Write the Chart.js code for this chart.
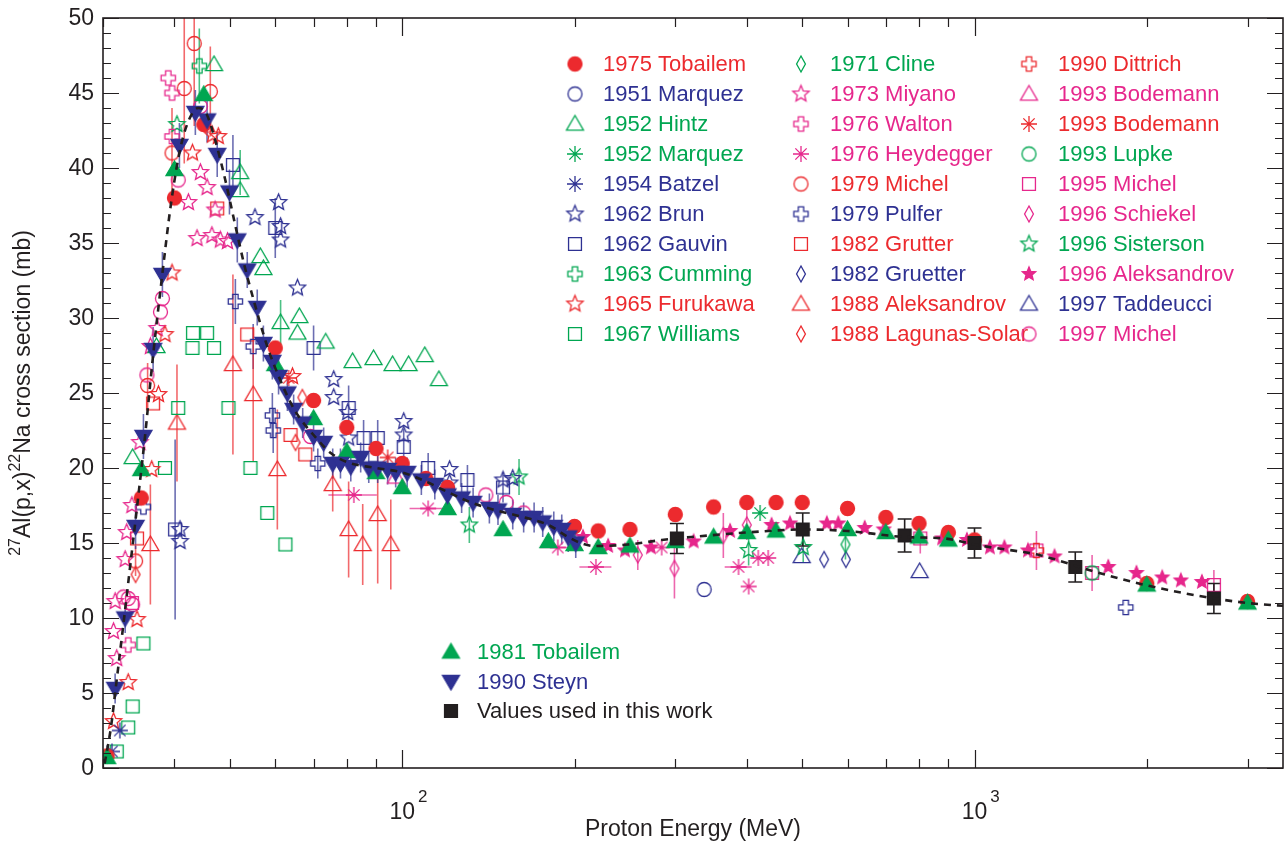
<!DOCTYPE html>
<html>
<head>
<meta charset="utf-8">
<script src="https://cdn.jsdelivr.net/npm/chart.js@4/dist/chart.umd.min.js"></script>
<style>
  html, body { margin: 0; padding: 0; background: #fff; }
  #c { display: block; }
</style>
</head>
<body>
<canvas id="c" width="1285" height="841"></canvas>
<script>
// 27Al(p,x)22Na excitation function, energies in MeV, cross sections in mb

const xTickValues = [30, 40, 50, 60, 70, 80, 90, 100, 200, 300, 400, 500, 600, 700, 800, 900, 1000, 2000, 3000];
const xLabelValues = [100, 1000];
const xLabelExponents = ['2', '3'];
const yLabelStep = 5;

// evaluated curve (dashed)
const fitE = [30.2, 31, 31.5, 32.5, 33.5, 34.5, 35.5, 36.7, 38, 39.5, 41, 42.5, 44, 45.5, 47, 49, 51, 53, 55, 58, 61, 65, 70, 75, 80, 90, 100, 110, 120, 130, 145, 160, 180, 195, 205, 216, 248, 284, 320, 400, 500, 600, 755, 888, 1000, 1073, 1297, 1585, 1987, 2533, 3000, 3494];
const fitS = [0.3, 2.8, 5.0, 9.3, 13.6, 17.8, 22.0, 27.5, 32.6, 37.8, 41.4, 43.3, 44.0, 43.6, 42.0, 39.3, 36.3, 33.5, 31.2, 28.2, 26.0, 23.8, 22.2, 21.0, 20.4, 20.0, 19.7, 19.1, 18.4, 17.8, 17.2, 16.8, 16.2, 15.4, 15.0, 14.8, 14.9, 15.2, 15.4, 15.7, 15.9, 15.8, 15.4, 15.3, 14.9, 14.7, 14.2, 13.2, 12.2, 11.4, 11.0, 10.8];

const tobailem75E = [30.5, 35, 40, 45, 60, 70, 80, 90, 100, 110, 120, 200, 220, 250, 300, 350, 400, 450, 500, 600, 700, 800, 900, 1000, 2000, 3000];
const tobailem75S = [0.8, 18.0, 38.0, 42.9, 28.0, 24.5, 22.7, 21.3, 20.3, 19.3, 18.7, 16.1, 15.8, 15.9, 16.9, 17.4, 17.7, 17.7, 17.7, 17.3, 16.7, 16.3, 15.7, 15.2, 12.3, 11.1];

const marquez51E = [337];
const marquez51S = [11.9];

const hintzE = [33.8, 37.2, 46.9, 52.1, 52.1, 56.5, 57.2, 61.3, 65.6, 66.1, 73.5, 81.9, 89.1, 96.2, 102.6, 109.5, 115.9];
const hintzS = [20.7, 28.1, 46.9, 39.7, 38.5, 34.1, 33.3, 29.7, 29.0, 30.1, 28.4, 27.1, 27.3, 26.9, 26.9, 27.5, 25.9];
const hintzErr = [0, 0, 0, 1.5, 0, 0, 0, 1.5, 0, 0, 0, 0, 0, 0, 0, 0, 0];

const marquez52E = [422];
const marquez52S = [17.0];

const batzelE = [32.1, 31.1];
const batzelS = [2.5, 1.1];

const brunE = [40.9, 40.9, 55.3, 60.8, 61.3, 61.3, 65.6, 75.9, 75.9, 80.3, 80.6, 100.6, 100.6, 121, 121, 150, 156];
const brunS = [15.9, 15.1, 36.7, 37.7, 36.1, 35.2, 32.0, 25.9, 24.7, 23.7, 22.0, 23.1, 22.2, 19.9, 19.0, 19.2, 19.3];

const gauvinE = [40.1, 50.6, 60.0, 70.0, 80.6, 85.6, 90.6, 100.6, 111, 130, 150];
const gauvinS = [15.9, 40.2, 36.0, 28.0, 24.0, 22.0, 22.0, 21.4, 20.0, 19.2, 18.7];
const gauvinErr = [6.0, 2.0, 2.0, 1.5, 1.5, 1.2, 1.2, 1.2, 1.0, 1.0, 1.0];

const cummingE = [44.2];
const cummingS = [46.8];
const cummingErr = [2.5];

const furukawaE = [31.3, 33.2, 34.4, 36.5, 37.5, 38.5, 39.6, 43.0, 46.6, 47.7, 64.3];
const furukawaS = [3.1, 5.7, 9.9, 19.9, 24.9, 28.9, 33.0, 41.0, 42.2, 42.1, 26.1];

const williamsE = [31.7, 33.2, 33.8, 35.3, 38.5, 40.6, 43.0, 43.1, 45.6, 46.9, 49.7, 54.3, 58.1, 62.5];
const williamsS = [1.1, 2.7, 4.1, 8.3, 20.0, 24.0, 28.0, 29.0, 29.0, 28.0, 24.0, 20.0, 17.0, 14.9];

const clineE = [595];
const clineS = [14.9];
const clineErr = [1.0];

const miyanoE = [31.3, 31.5, 31.7, 32.8, 33.0, 33.7, 34.8, 36.3, 37.3, 42.3, 43.8, 44.4, 45.6, 46.5, 47.1, 48.1, 49.5];
const miyanoS = [9.1, 11.1, 7.3, 13.9, 15.7, 17.5, 21.7, 28.1, 29.3, 37.7, 35.3, 39.7, 38.7, 35.5, 37.2, 35.2, 35.1];

const waltonE = [33.2, 39.0, 39.6, 39.6];
const waltonS = [8.2, 46.0, 45.0, 42.1];

const heydeggerE = [82.3, 111, 187, 218, 284, 387, 403, 419, 436];
const heydeggerS = [18.2, 17.3, 14.7, 13.4, 14.7, 13.4, 12.1, 14.0, 14.0];
const heydeggerXErr = [8, 8, 13, 14, 0, 21, 0, 0, 0];

const michel79E = [34.2, 35.9, 39.6, 41.6, 43.3, 46.2];
const michel79S = [13.8, 25.5, 41.0, 45.3, 48.3, 45.1];
const michel79Err = [1.0, 1.5, 3.0, 5.0, 5.5, 3.0];

const pulferE = [35.3, 51.1, 54.9, 59.3, 59.5, 71.2, 1838];
const pulferS = [17.4, 31.1, 28.1, 23.5, 22.5, 20.3, 10.7];
const pulferErr = [0, 1.5, 1.5, 1.5, 1.5, 1.0, 0];

const grutterE = [34.4, 36.7, 47.5, 53.6, 63.8, 67.7];
const grutterS = [15.3, 24.3, 37.3, 28.9, 22.2, 20.9];

const gruetterE = [546, 596];
const gruetterS = [13.9, 13.9];

const aleks88E = [36.3, 40.4, 50.6, 54.9, 60.5, 75.6, 80.6, 85.3, 90.6, 95.5];
const aleks88S = [14.9, 23.0, 26.9, 24.9, 19.9, 18.9, 15.9, 14.9, 16.9, 14.9];
const aleks88Err = [4.0, 3.9, 6.0, 4.5, 4.0, 1.8, 3.2, 2.7, 4.6, 3.0];

const lagunasE = [34.2, 65.1, 66.9];
const lagunasS = [12.9, 21.7, 24.7];

const dittrichE = [1283];
const dittrichS = [14.5];

const bodemannTriE = [97.5];
const bodemannTriS = [19.4];

const bodemannAstE = [63.3, 94.3];
const bodemannAstS = [26.0, 20.7];

const lupkeE = [1605];
const lupkeS = [13.0];

const michel95E = [33.7, 804, 1283, 1605, 2620];
const michel95S = [11.0, 15.3, 14.5, 13.0, 12.2];
const michel95Err = [0, 1.0, 1.3, 1.2, 1.0];

const schiekelE = [258, 299, 364, 400];
const schiekelS = [14.2, 13.3, 15.5, 16.2];
const schiekelErr = [1.0, 2.0, 1.5, 1.0];

const sistersonE = [40.4, 131, 160, 403, 502];
const sistersonS = [42.9, 16.2, 19.4, 14.5, 14.7];
const sistersonErr = [0, 1.2, 1.2, 1.0, 1.0];

const aleks96E = [207, 229, 245, 272, 323, 374, 442, 476, 552, 578, 643, 694, 878, 970, 1064, 1128, 1240, 1380, 1713, 1919, 2128, 2294, 2497];
const aleks96S = [15.4, 14.8, 14.5, 14.7, 15.1, 15.8, 16.2, 16.3, 16.3, 16.3, 16.0, 15.9, 15.3, 15.2, 14.7, 14.7, 14.5, 14.1, 13.4, 13.0, 12.7, 12.5, 12.4];

const taddeucciE = [499, 802];
const taddeucciS = [14.1, 13.1];

const michel97E = [32.6, 33.2, 33.8, 35.8, 37.8, 38.1, 40.6, 44.4, 69.1, 140, 152, 163];
const michel97S = [11.4, 11.3, 10.9, 26.2, 30.4, 31.3, 39.2, 44.1, 22.1, 18.2, 17.7, 17.0];

const tobailem81E = [30.5, 35, 40, 45, 60, 70, 80, 90, 100, 120, 150, 180, 200, 220, 250, 300, 350, 400, 450, 600, 700, 800, 900, 2000, 3000];
const tobailem81S = [0.7, 19.9, 39.9, 44.9, 26.9, 23.3, 21.1, 19.7, 18.7, 17.3, 15.9, 15.1, 14.9, 14.7, 14.8, 15.1, 15.4, 15.7, 15.8, 15.9, 15.7, 15.4, 15.2, 12.2, 11.0];

const steynE = [31.5, 32.8, 34.2, 35.3, 36.7, 38.1, 40.8, 43.5, 45.6, 47.5, 49.9, 51.5, 53.6, 55.8, 57.2, 59.3, 60.8, 63.0, 64.6, 67.0, 70.0, 72.9, 75.6, 78.0, 81.3, 84.6, 87.4, 90.6, 94.3, 97.4, 102, 108, 114, 120, 127, 133, 142, 147, 156, 163, 170, 176, 184, 190, 195, 201];
const steynS = [5.3, 10.0, 16.1, 22.1, 27.9, 32.9, 41.5, 43.7, 43.2, 40.9, 38.4, 35.2, 33.2, 30.7, 28.3, 27.1, 26.1, 25.0, 23.9, 23.0, 22.1, 21.7, 20.3, 20.3, 20.1, 20.7, 20.0, 20.0, 19.9, 19.7, 19.7, 19.2, 18.9, 18.2, 18.0, 17.7, 17.3, 17.2, 16.9, 16.7, 16.7, 16.4, 16.1, 15.9, 15.4, 15.0];
const steynErr = [1.0, 1.0, 1.5, 1.5, 1.5, 1.5, 1.5, 1.5, 1.5, 1.5, 1.5, 1.5, 1.2, 1.2, 1.2, 1.2, 1.2, 1.2, 1.0, 1.0, 1.0, 1.0, 1.0, 1.0, 1.0, 1.0, 1.0, 1.0, 1.0, 1.0, 1.0, 1.0, 1.0, 1.0, 1.0, 1.0, 1.0, 1.0, 1.0, 1.0, 1.0, 1.0, 1.0, 1.0, 1.0, 1.0];

const adoptedE = [302, 501, 755, 1000, 1500, 2620];
const adoptedS = [15.3, 15.9, 15.5, 15.0, 13.4, 11.3];
const adoptedErr = [1.0, 1.1, 1.1, 1.0, 1.0, 1.0];

const RED = '#ec2a2e';
const BLUE = '#2e3192';
const GREEN = '#00a651';
const PINK = '#e6278c';
const INK = '#231f20';
const FONT = '"Liberation Sans", Arial, Helvetica, sans-serif';

// series in legend reading order: three columns of ten, then the lower block
const series = [
  { label: '1975 Tobailem', e: tobailem75E, s: tobailem75S, shape: 'circle', color: RED, filled: true, order: 4 },
  { label: '1951 Marquez', e: marquez51E, s: marquez51S, shape: 'circle', color: BLUE },
  { label: '1952 Hintz', e: hintzE, s: hintzS, err: hintzErr, shape: 'triangle', color: GREEN },
  { label: '1952 Marquez', e: marquez52E, s: marquez52S, shape: 'asterisk', color: GREEN },
  { label: '1954 Batzel', e: batzelE, s: batzelS, shape: 'asterisk', color: BLUE },
  { label: '1962 Brun', e: brunE, s: brunS, shape: 'star', color: BLUE },
  { label: '1962 Gauvin', e: gauvinE, s: gauvinS, err: gauvinErr, shape: 'square', color: BLUE },
  { label: '1963 Cumming', e: cummingE, s: cummingS, err: cummingErr, shape: 'plus', color: GREEN },
  { label: '1965 Furukawa', e: furukawaE, s: furukawaS, shape: 'star', color: RED },
  { label: '1967 Williams', e: williamsE, s: williamsS, shape: 'square', color: GREEN },
  { label: '1971 Cline', e: clineE, s: clineS, err: clineErr, shape: 'diamond', color: GREEN },
  { label: '1973 Miyano', e: miyanoE, s: miyanoS, shape: 'star', color: PINK },
  { label: '1976 Walton', e: waltonE, s: waltonS, shape: 'plus', color: PINK },
  { label: '1976 Heydegger', e: heydeggerE, s: heydeggerS, xerr: heydeggerXErr, shape: 'asterisk', color: PINK },
  { label: '1979 Michel', e: michel79E, s: michel79S, err: michel79Err, shape: 'circle', color: RED },
  { label: '1979 Pulfer', e: pulferE, s: pulferS, err: pulferErr, shape: 'plus', color: BLUE },
  { label: '1982 Grutter', e: grutterE, s: grutterS, shape: 'square', color: RED },
  { label: '1982 Gruetter', e: gruetterE, s: gruetterS, shape: 'diamond', color: BLUE },
  { label: '1988 Aleksandrov', e: aleks88E, s: aleks88S, err: aleks88Err, shape: 'triangle', color: RED },
  { label: '1988 Lagunas-Solar', e: lagunasE, s: lagunasS, shape: 'diamond', color: RED },
  { label: '1990 Dittrich', e: dittrichE, s: dittrichS, shape: 'plus', color: RED },
  { label: '1993 Bodemann', e: bodemannTriE, s: bodemannTriS, shape: 'triangle', color: PINK },
  { label: '1993 Bodemann', e: bodemannAstE, s: bodemannAstS, shape: 'asterisk', color: RED },
  { label: '1993 Lupke', e: lupkeE, s: lupkeS, shape: 'circle', color: GREEN },
  { label: '1995 Michel', e: michel95E, s: michel95S, err: michel95Err, shape: 'square', color: PINK },
  { label: '1996 Schiekel', e: schiekelE, s: schiekelS, err: schiekelErr, shape: 'diamond', color: PINK },
  { label: '1996 Sisterson', e: sistersonE, s: sistersonS, err: sistersonErr, shape: 'star', color: GREEN },
  { label: '1996 Aleksandrov', e: aleks96E, s: aleks96S, shape: 'star', color: PINK, filled: true, size: 14, order: 5 },
  { label: '1997 Taddeucci', e: taddeucciE, s: taddeucciS, shape: 'triangle', color: BLUE },
  { label: '1997 Michel', e: michel97E, s: michel97S, shape: 'circle', color: PINK },
  { label: '1981 Tobailem', e: tobailem81E, s: tobailem81S, shape: 'triangle', color: GREEN, filled: true, order: 3 },
  { label: '1990 Steyn', e: steynE, s: steynS, err: steynErr, shape: 'triangleDown', color: BLUE, filled: true, order: 2 },
  { label: 'Values used in this work', e: adoptedE, s: adoptedS, err: adoptedErr, shape: 'square', color: INK, filled: true, caps: true, order: 1 }
];

const markerSize = { circle: 15, triangle: 17, triangleDown: 17, square: 14, diamond: 16, star: 17, plus: 15, asterisk: 16 };

function makeMarker(shape, color, filled, sizeOverride) {
  const size = sizeOverride || markerSize[shape];
  const c = document.createElement('canvas');
  c.width = c.height = size + 6;
  const g = c.getContext('2d');
  const r = size / 2;
  g.translate(c.width / 2, c.height / 2);
  g.strokeStyle = color;
  g.fillStyle = color;
  g.lineWidth = 1.3;
  g.beginPath();
  if (shape === 'circle') {
    g.arc(0, 0, r - 0.5, 0, Math.PI * 2);
  } else if (shape === 'triangle') {
    g.moveTo(0, -r); g.lineTo(r, r * 0.72); g.lineTo(-r, r * 0.72); g.closePath();
  } else if (shape === 'triangleDown') {
    g.moveTo(0, r); g.lineTo(r, -r * 0.72); g.lineTo(-r, -r * 0.72); g.closePath();
  } else if (shape === 'square') {
    const h = r * 0.92;
    g.rect(-h, -h, 2 * h, 2 * h);
  } else if (shape === 'diamond') {
    g.moveTo(0, -r); g.lineTo(r * 0.55, 0); g.lineTo(0, r); g.lineTo(-r * 0.55, 0); g.closePath();
  } else if (shape === 'star') {
    for (let k = 0; k < 10; k++) {
      const rad = k % 2 ? r * 0.45 : r;
      const a = -Math.PI / 2 + k * Math.PI / 5;
      const px = rad * Math.cos(a), py = rad * Math.sin(a);
      if (k === 0) g.moveTo(px, py); else g.lineTo(px, py);
    }
    g.closePath();
  } else if (shape === 'plus') {
    const a = r * 0.36, b = r * 0.95;
    const pts = [[-a, -b], [a, -b], [a, -a], [b, -a], [b, a], [a, a], [a, b], [-a, b], [-a, a], [-b, a], [-b, -a], [-a, -a]];
    pts.forEach(([px, py], k) => (k ? g.lineTo(px, py) : g.moveTo(px, py)));
    g.closePath();
  } else if (shape === 'asterisk') {
    for (let k = 0; k < 4; k++) {
      const a = k * Math.PI / 4;
      g.moveTo(-r * Math.cos(a), -r * Math.sin(a));
      g.lineTo(r * Math.cos(a), r * Math.sin(a));
    }
  }
  if (shape === 'asterisk') g.stroke();
  else if (filled) { g.fill(); g.stroke(); }
  else g.stroke();
  return c;
}

const datasets = series.map((s, i) => ({
  type: 'scatter',
  label: s.label,
  data: s.e.map((e, k) => ({ x: e, y: s.s[k], err: s.err ? s.err[k] : 0, xerr: s.xerr ? s.xerr[k] : 0 })),
  pointStyle: makeMarker(s.shape, s.color, s.filled, s.size),
  pointRadius: 8,
  pointHoverRadius: 8,
  order: s.order || 10 + i,
  seriesColor: s.color,
  caps: !!s.caps,
  legendSlot: i
}));

datasets.push({
  type: 'line',
  label: 'fit',
  data: fitE.map((e, k) => ({ x: e, y: fitS[k] })),
  borderColor: INK,
  borderWidth: 2.6,
  borderDash: [7, 6],
  pointRadius: 0,
  fill: false,
  cubicInterpolationMode: 'monotone',
  order: 0
});

// vertical (and a few horizontal) error bars, drawn beneath the markers
const errorBars = {
  id: 'errorBars',
  beforeDatasetsDraw(chart) {
    const { ctx, chartArea: a, scales: { x, y } } = chart;
    ctx.save();
    ctx.beginPath();
    ctx.rect(a.left, a.top, a.right - a.left, a.bottom - a.top);
    ctx.clip();
    chart.data.datasets.forEach(ds => {
      if (ds.legendSlot === undefined) return;
      ctx.strokeStyle = ds.seriesColor;
      ctx.globalAlpha = ds.caps ? 1 : 0.7;
      ctx.lineWidth = 1.6;
      ds.data.forEach(d => {
        const px = x.getPixelForValue(d.x);
        const py = y.getPixelForValue(d.y);
        if (d.err) {
          const top = y.getPixelForValue(d.y + d.err);
          const bot = y.getPixelForValue(d.y - d.err);
          ctx.beginPath();
          ctx.moveTo(px, top); ctx.lineTo(px, bot);
          if (ds.caps) {
            ctx.moveTo(px - 7, top); ctx.lineTo(px + 7, top);
            ctx.moveTo(px - 7, bot); ctx.lineTo(px + 7, bot);
          }
          ctx.stroke();
        }
        if (d.xerr) {
          ctx.beginPath();
          ctx.moveTo(x.getPixelForValue(d.x - d.xerr), py);
          ctx.lineTo(x.getPixelForValue(d.x + d.xerr), py);
          ctx.stroke();
        }
      });
    });
    ctx.restore();
  }
};

// frame, inward ticks, tick labels and axis titles
const axisDecor = {
  id: 'axisDecor',
  afterDraw(chart) {
    const { ctx, chartArea: a, scales: { x, y } } = chart;
    ctx.save();
    ctx.strokeStyle = INK;
    ctx.lineWidth = 1.2;
    ctx.beginPath();
    y.ticks.forEach(t => {
      const py = Math.round(y.getPixelForValue(t.value)) + 0.5;
      const len = t.value % yLabelStep === 0 ? 16 : 8;
      ctx.moveTo(a.left, py); ctx.lineTo(a.left + len, py);
      ctx.moveTo(a.right, py); ctx.lineTo(a.right - len, py);
    });
    x.ticks.forEach(t => {
      const px = Math.round(x.getPixelForValue(t.value)) + 0.5;
      const len = xLabelValues.includes(t.value) ? 18 : 9;
      ctx.moveTo(px, a.bottom); ctx.lineTo(px, a.bottom - len);
      ctx.moveTo(px, a.top); ctx.lineTo(px, a.top + len);
    });
    ctx.stroke();
    ctx.lineWidth = 1.6;
    ctx.strokeRect(a.left, a.top, a.right - a.left, a.bottom - a.top);

    ctx.fillStyle = INK;
    ctx.textBaseline = 'middle';
    ctx.font = '23px ' + FONT;
    ctx.textAlign = 'right';
    y.ticks.forEach(t => {
      if (t.value % yLabelStep !== 0) return;
      ctx.fillText(String(t.value), a.left - 9, y.getPixelForValue(t.value) + 1);
    });

    xLabelValues.forEach((v, i) => {
      const px = x.getPixelForValue(v);
      ctx.font = '23px ' + FONT;
      ctx.textAlign = 'center';
      ctx.fillText('10', px, a.bottom + 45);
      const w = ctx.measureText('10').width;
      ctx.font = '17px ' + FONT;
      ctx.textAlign = 'left';
      ctx.fillText(xLabelExponents[i], px + w / 2 + 3, a.bottom + 29);
    });

    ctx.font = '23px ' + FONT;
    ctx.textAlign = 'center';
    ctx.fillText('Proton Energy (MeV)', (a.left + a.right) / 2, 830);

    // rotated y title with superscript mass numbers
    const parts = [['27', true], ['Al(p,x)', false], ['22', true], ['Na cross section (mb)', false]];
    const width = parts.reduce((s, [t, sup]) => {
      ctx.font = (sup ? '16px ' : '23px ') + FONT;
      return s + ctx.measureText(t).width;
    }, 0);
    ctx.translate(24, (a.top + a.bottom) / 2);
    ctx.rotate(-Math.PI / 2);
    ctx.textAlign = 'left';
    let cx = -width / 2;
    parts.forEach(([t, sup]) => {
      ctx.font = (sup ? '16px ' : '23px ') + FONT;
      ctx.fillText(t, cx, sup ? -8 : 0);
      cx += ctx.measureText(t).width;
    });
    ctx.restore();
  }
};

// legend: three columns in the upper right, three entries below the curve
const legendBlock = {
  id: 'legendBlock',
  afterDraw(chart) {
    const { ctx } = chart;
    const colMarker = [575, 801, 1029];
    const colText = [603, 830, 1058];
    ctx.save();
    ctx.font = '22px ' + FONT;
    ctx.textBaseline = 'middle';
    ctx.textAlign = 'left';
    chart.data.datasets.forEach(ds => {
      const i = ds.legendSlot;
      if (i === undefined) return;
      let mx, tx, ty;
      if (i < 30) {
        const col = Math.floor(i / 10);
        mx = colMarker[col]; tx = colText[col]; ty = 64 + (i % 10) * 30;
      } else {
        mx = 451; tx = 477; ty = 652 + (i - 30) * 29.5;
      }
      const img = ds.pointStyle;
      ctx.drawImage(img, mx - img.width / 2, ty - img.height / 2);
      ctx.fillStyle = ds.seriesColor;
      ctx.fillText(ds.label, tx, ty + 1);
    });
    ctx.restore();
  }
};

Chart.defaults.font.family = FONT;

new Chart(document.getElementById('c'), {
  type: 'scatter',
  data: { datasets },
  options: {
    responsive: false,
    animation: false,
    events: [],
    layout: { autoPadding: false, padding: { top: 18, right: 2, left: 0, bottom: 0 } },
    plugins: { legend: { display: false }, tooltip: { enabled: false } },
    scales: {
      x: {
        type: 'logarithmic',
        min: 30,
        max: 3460,
        grid: { display: false, drawTicks: false },
        border: { display: false },
        ticks: { display: false },
        afterBuildTicks: s => { s.ticks = xTickValues.map(v => ({ value: v })); },
        afterFit: s => { s.height = 73; }
      },
      y: {
        type: 'linear',
        min: 0,
        max: 50,
        grid: { display: false, drawTicks: false },
        border: { display: false },
        ticks: { display: false, stepSize: 1, autoSkip: false },
        afterFit: s => { s.width = 103; }
      }
    }
  },
  plugins: [errorBars, axisDecor, legendBlock]
});
</script>
</body>
</html>
